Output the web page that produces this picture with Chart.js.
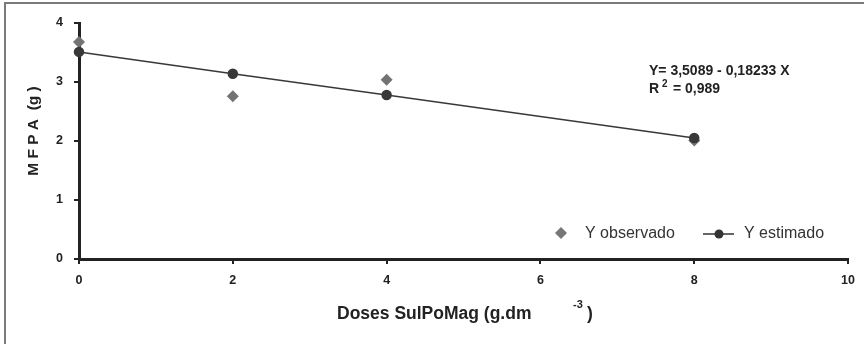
<!DOCTYPE html>
<html>
<head>
<meta charset="utf-8">
<script src="https://cdn.jsdelivr.net/npm/chart.js@4/dist/chart.umd.min.js"></script>
<style>
	html, body { margin: 0; padding: 0; background: #fff; }
	#wrap { width: 864px; height: 344px; }
</style>
</head>
<body>
<div id="wrap"><canvas id="mfpa" width="864" height="344"></canvas></div>
<script>
//
// Doses de SulPoMag et valeurs de MFPA (observées et estimées).
//
const doses = [ 0, 2, 4, 8 ];
const y_observado = [ 3.68, 2.76, 3.04, 2.01 ];
const y_estimado = [ 3.51, 3.14, 2.78, 2.05 ];
const x_ticks = [ 0, 2, 4, 6, 8, 10 ];
const y_ticks = [ 0, 1, 2, 3, 4 ];

const ink = "#222222";
const font_name = "'Liberation Sans', Arial, sans-serif";

//
// Cadre, titres, équation et légende dessinés à la main.
//
const extras = {
	id: "extras",
	beforeDraw( chart ) {
		const ctx = chart.ctx;
		ctx.save();
		ctx.strokeStyle = "#7a7a7a";
		ctx.lineWidth = 2;
		ctx.beginPath();
		ctx.moveTo( 5, 344 );
		ctx.lineTo( 5, 3 );
		ctx.lineTo( 864, 3 );
		ctx.stroke();
		ctx.restore();
	},
	afterDraw( chart ) {
		const ctx = chart.ctx;
		ctx.save();
		ctx.fillStyle = ink;
		ctx.textBaseline = "middle";

		// titre axe Y
		ctx.save();
		ctx.translate( 34, 131 );
		ctx.rotate( -Math.PI / 2 );
		ctx.textAlign = "center";
		ctx.font = "bold 15.5px " + font_name;
		ctx.fillText( "M F P A  (g )", 0, 0 );
		ctx.restore();

		// titre axe X
		ctx.textAlign = "left";
		ctx.font = "bold 17.5px " + font_name;
		ctx.fillText( "Doses SulPoMag (g.dm", 337, 314 );
		ctx.fillText( ")", 587, 314 );
		ctx.font = "bold 11px " + font_name;
		ctx.fillText( "-3", 573, 305 );

		// équation
		ctx.font = "bold 14px " + font_name;
		ctx.fillText( "Y= 3,5089 - 0,18233 X", 649, 71 );
		ctx.fillText( "R", 649, 89 );
		ctx.fillText( "= 0,989", 673, 89 );
		ctx.font = "bold 10px " + font_name;
		ctx.fillText( "2", 662, 84 );

		// légende
		ctx.fillStyle = "#777777";
		ctx.beginPath();
		ctx.moveTo( 561, 227 );
		ctx.lineTo( 567, 233 );
		ctx.lineTo( 561, 239 );
		ctx.lineTo( 555, 233 );
		ctx.closePath();
		ctx.fill();
		ctx.fillStyle = "#333333";
		ctx.font = "16px " + font_name;
		ctx.fillText( "Y observado", 585, 234 );
		ctx.strokeStyle = "#333333";
		ctx.lineWidth = 1.5;
		ctx.beginPath();
		ctx.moveTo( 703, 234 );
		ctx.lineTo( 734, 234 );
		ctx.stroke();
		ctx.beginPath();
		ctx.arc( 719, 234, 4.5, 0, Math.PI * 2 );
		ctx.fill();
		ctx.fillText( "Y estimado", 744, 234 );
		ctx.restore();
	}
};

new Chart( document.getElementById( "mfpa" ),
	{
		type: "scatter",
		data: {
			datasets: [
				{
					label: "Y observado",
					data: doses.map( ( x, i ) => ( { x: x, y: y_observado[ i ] } ) ),
					pointStyle: "rectRot",
					pointRadius: 6,
					backgroundColor: "#737373",
					borderColor: "#737373",
					borderWidth: 0,
					showLine: false,
					clip: false,
					order: 2
				},
				{
					label: "Y estimado",
					data: doses.map( ( x, i ) => ( { x: x, y: y_estimado[ i ] } ) ),
					pointStyle: "circle",
					pointRadius: 4.5,
					backgroundColor: "#383838",
					borderColor: "#383838",
					borderWidth: 1.5,
					showLine: true,
					clip: false,
					order: 1
				}
			]
		},
		options: {
			responsive: false,
			animation: false,
			layout: {
				padding: { top: 23, right: 15, left: 0, bottom: 0 }
			},
			plugins: {
				legend: { display: false },
				tooltip: { enabled: false }
			},
			scales: {
				x: {
					type: "linear",
					min: 0,
					max: 10,
					afterBuildTicks: ( scale ) => { scale.ticks = x_ticks.map( v => ( { value: v } ) ); },
					afterFit: ( scale ) => { scale.height = 85; },
					border: { color: ink, width: 3 },
					grid: { drawOnChartArea: false, tickLength: 5, color: ink, lineWidth: 2 },
					ticks: {
						color: ink,
						padding: 9,
						font: { family: font_name, size: 12.5, weight: "bold" }
					}
				},
				y: {
					min: 0,
					max: 4,
					afterBuildTicks: ( scale ) => { scale.ticks = y_ticks.map( v => ( { value: v } ) ); },
					afterFit: ( scale ) => { scale.width = 79; },
					border: { color: ink, width: 3 },
					grid: { drawOnChartArea: false, tickLength: 5, color: ink, lineWidth: 2 },
					ticks: {
						color: ink,
						padding: 11,
						font: { family: font_name, size: 12.5, weight: "bold" }
					}
				}
			}
		},
		plugins: [ extras ]
	} );
</script>
</body>
</html>
